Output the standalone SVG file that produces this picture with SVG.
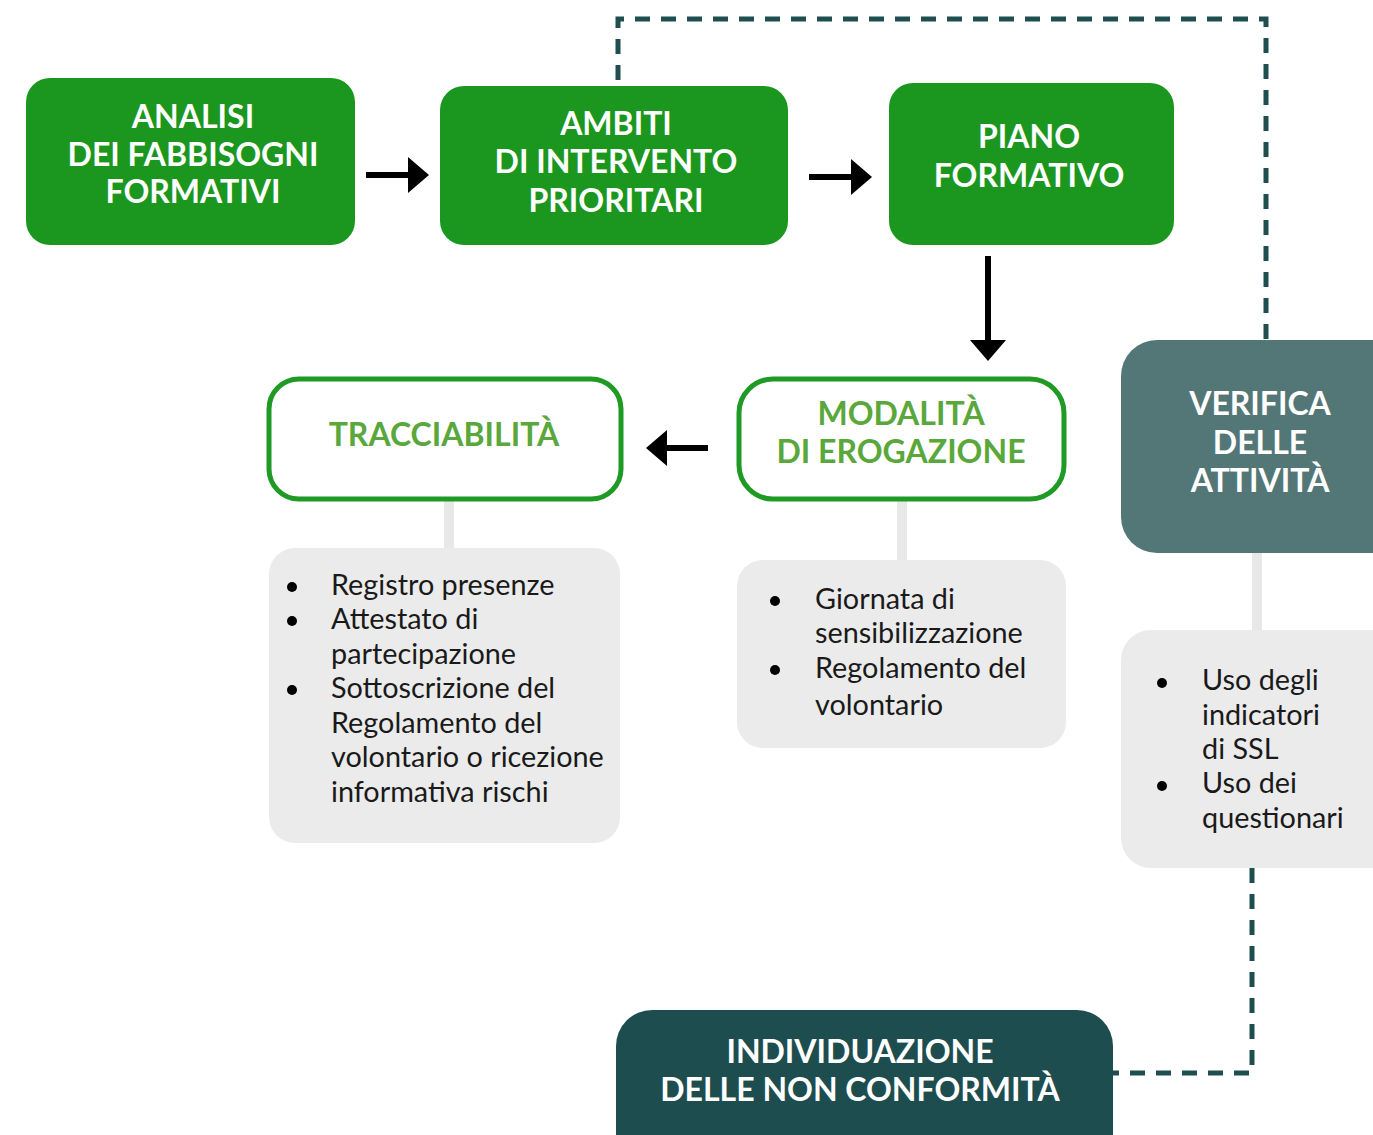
<svg xmlns="http://www.w3.org/2000/svg" width="1373" height="1135" viewBox="0 0 1373 1135">
  <defs>
    <marker id="ah" markerUnits="userSpaceOnUse" markerWidth="22" markerHeight="38" refX="2" refY="18" orient="auto">
      <polygon points="0,0 21,18 0,36" fill="#000"/>
    </marker>
    <style>
      .solid{fill:#1b971f}
      .outl{fill:#fff;stroke:#1f9a24;stroke-width:5}
      .list{fill:#ebebeb}
      .stem{stroke:#e8e8e8;stroke-width:10}
      .arr{stroke:#000;stroke-width:6;fill:none;marker-end:url(#ah)}
      .dash{stroke:#1f4e4f;stroke-width:5;fill:none;stroke-dasharray:15 11}
      .hw{font-family:Lato,"Open Sans",sans-serif;font-weight:700;font-size:32px;fill:#fff;text-anchor:middle}
      .hg{font-family:Lato,"Open Sans",sans-serif;font-weight:700;font-size:32px;fill:#5aa73b;text-anchor:middle}
      .bt{font-family:Lato,"Open Sans",sans-serif;font-size:28.8px;fill:#1a1a1a}
      .dot{fill:#000}
    </style>
  </defs>

  <g id="connectors">
    <path class="dash" d="M618,80 V19 H1266 V340"/>
    <path class="dash" d="M1252,868 V1073 H1113"/>
    <line class="arr" x1="366" y1="175" x2="410" y2="175"/>
    <line class="arr" x1="809" y1="177" x2="853" y2="177"/>
    <line class="arr" x1="988" y1="256" x2="988" y2="342"/>
    <line class="arr" x1="708" y1="448" x2="665" y2="448"/>
    <line class="stem" x1="449" y1="500" x2="449" y2="548"/>
    <line class="stem" x1="902" y1="500" x2="902" y2="560"/>
    <line class="stem" x1="1257" y1="553" x2="1257" y2="631"/>
  </g>

  <g id="analisi">
    <rect class="solid" x="26" y="78" width="329" height="167" rx="24"/>
    <text class="hw" x="193" y="128">ANALISI</text>
    <text class="hw" x="193" y="166">DEI FABBISOGNI</text>
    <text class="hw" x="193" y="203">FORMATIVI</text>
  </g>

  <g id="ambiti">
    <rect class="solid" x="440" y="86" width="348" height="159" rx="24"/>
    <text class="hw" x="616" y="135">AMBITI</text>
    <text class="hw" x="616" y="173">DI INTERVENTO</text>
    <text class="hw" x="616" y="212">PRIORITARI</text>
  </g>

  <g id="piano">
    <rect class="solid" x="889" y="83" width="285" height="162" rx="24"/>
    <text class="hw" x="1029" y="148">PIANO</text>
    <text class="hw" x="1029" y="187">FORMATIVO</text>
  </g>

  <g id="tracciabilita">
    <rect class="outl" x="269" y="379" width="352" height="120" rx="30"/>
    <text class="hg" x="444" y="446">TRACCIABILITÀ</text>
  </g>

  <g id="modalita">
    <rect class="outl" x="739" y="379" width="325" height="120" rx="34"/>
    <text class="hg" x="901" y="425">MODALITÀ</text>
    <text class="hg" x="901" y="463">DI EROGAZIONE</text>
  </g>

  <g id="verifica">
    <rect x="1121" y="340" width="290" height="213" rx="36" fill="#537676"/>
    <text class="hw" x="1260" y="415">VERIFICA</text>
    <text class="hw" x="1260" y="454">DELLE</text>
    <text class="hw" x="1260" y="492">ATTIVITÀ</text>
  </g>

  <g id="lista-tracciabilita">
    <rect class="list" x="269" y="548" width="351" height="295" rx="26"/>
    <circle class="dot" cx="292" cy="587" r="5"/>
    <circle class="dot" cx="292" cy="621" r="5"/>
    <circle class="dot" cx="292" cy="690" r="5"/>
    <text class="bt" x="331" y="595">Registro presenze</text>
    <text class="bt" x="331" y="629">Attestato di</text>
    <text class="bt" x="331" y="664">partecipazione</text>
    <text class="bt" x="331" y="698">Sottoscrizione del</text>
    <text class="bt" x="331" y="733">Regolamento del</text>
    <text class="bt" x="331" y="767">volontario o ricezione</text>
    <text class="bt" x="331" y="802">informativa rischi</text>
  </g>

  <g id="lista-modalita">
    <rect class="list" x="737" y="560" width="329" height="188" rx="26"/>
    <circle class="dot" cx="775" cy="601" r="5"/>
    <circle class="dot" cx="775" cy="670" r="5"/>
    <text class="bt" x="815" y="609">Giornata di</text>
    <text class="bt" x="815" y="643">sensibilizzazione</text>
    <text class="bt" x="815" y="678">Regolamento del</text>
    <text class="bt" x="815" y="715">volontario</text>
  </g>

  <g id="lista-verifica">
    <rect class="list" x="1121" y="630" width="290" height="238" rx="30"/>
    <circle class="dot" cx="1162" cy="683" r="5"/>
    <circle class="dot" cx="1162" cy="786" r="5"/>
    <text class="bt" x="1202" y="690">Uso degli</text>
    <text class="bt" x="1202" y="725">indicatori</text>
    <text class="bt" x="1202" y="759">di SSL</text>
    <text class="bt" x="1202" y="793">Uso dei</text>
    <text class="bt" x="1202" y="828">questionari</text>
  </g>

  <g id="individuazione">
    <rect x="616" y="1010" width="497" height="170" rx="36" fill="#1e4d4f"/>
    <text class="hw" x="860" y="1063">INDIVIDUAZIONE</text>
    <text class="hw" x="860" y="1101">DELLE NON CONFORMITÀ</text>
  </g>
</svg>
